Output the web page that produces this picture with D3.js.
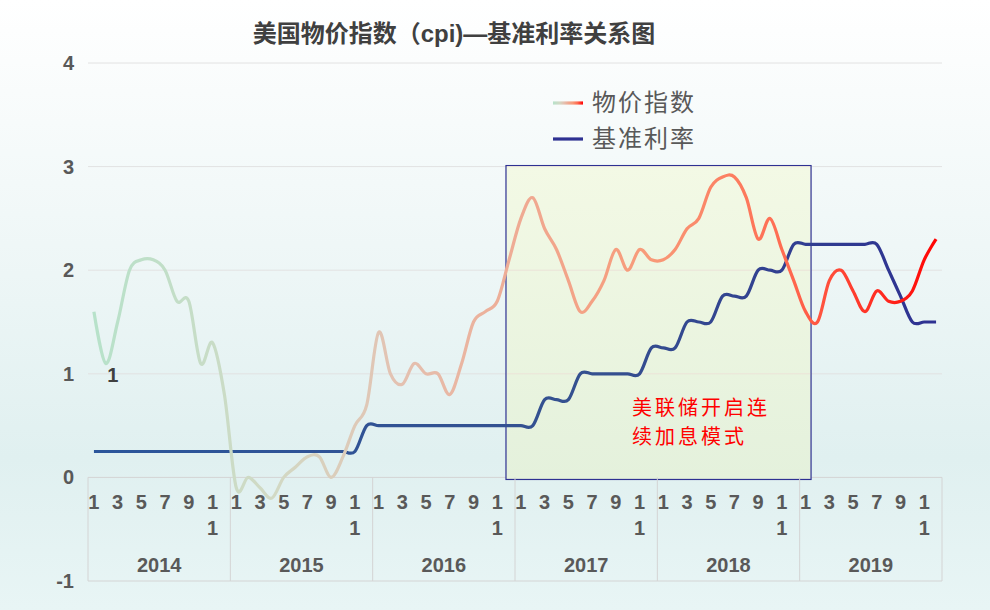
<!DOCTYPE html>
<html>
<head>
<meta charset="utf-8">
<script src="https://cdn.jsdelivr.net/npm/d3@7"></script>
<style>
  html, body { margin: 0; padding: 0; }
  svg { display: block; }
  .tick-label { font-family: "Liberation Sans", Arial, sans-serif; font-weight: bold; fill: #595959; }
</style>
</head>
<body>
<svg id="chart" width="990" height="610"></svg>
<script>
// years and months on the category axis
const years = ["2014", "2015", "2016", "2017", "2018", "2019"];
const months = [1, 2, 3, 4, 5, 6, 7, 8, 9, 10, 11, 12];
const monthTicks = [1, 3, 5, 7, 9, 11];
const yTicks = [-1, 0, 1, 2, 3, 4];

// CPI year-on-year, %
const cpi = [
  1.6, 1.1, 1.5, 2.0, 2.1, 2.1, 2.0, 1.7, 1.7, 1.1, 1.3, 0.8,
  -0.1, 0.0, -0.1, -0.2, 0.0, 0.1, 0.2, 0.2, 0.0, 0.2, 0.5, 0.7,
  1.4, 1.0, 0.9, 1.1, 1.0, 1.0, 0.8, 1.1, 1.5, 1.6, 1.7, 2.1,
  2.5, 2.7, 2.4, 2.2, 1.9, 1.6, 1.7, 1.9, 2.2, 2.0, 2.2, 2.1,
  2.1, 2.2, 2.4, 2.5, 2.8, 2.9, 2.9, 2.7, 2.3, 2.5, 2.2, 1.9,
  1.6, 1.5, 1.9, 2.0, 1.8, 1.6, 1.8, 1.7, 1.7, 1.8, 2.1, 2.3
];

// federal funds target, %
const rate = [
  0.25, 0.25, 0.25, 0.25, 0.25, 0.25, 0.25, 0.25, 0.25, 0.25, 0.25, 0.25,
  0.25, 0.25, 0.25, 0.25, 0.25, 0.25, 0.25, 0.25, 0.25, 0.25, 0.25, 0.5,
  0.5, 0.5, 0.5, 0.5, 0.5, 0.5, 0.5, 0.5, 0.5, 0.5, 0.5, 0.5,
  0.5, 0.5, 0.75, 0.75, 0.75, 1.0, 1.0, 1.0, 1.0, 1.0, 1.0, 1.25,
  1.25, 1.25, 1.5, 1.5, 1.5, 1.75, 1.75, 1.75, 2.0, 2.0, 2.0, 2.25,
  2.25, 2.25, 2.25, 2.25, 2.25, 2.25, 2.25, 2.0, 1.75, 1.5, 1.5, 1.5
];

const seriesNames = ["物价指数", "基准利率"];
const title = "美国物价指数（cpi)—基准利率关系图";
const noteLines = ["美联储开启连", "续加息模式"];
// highlighted span, in month positions / y values
const noteSpan = { from: 35.24, to: 60.96, top: 3.01, bottom: -0.02 };

const svg = d3.select("#chart");
const width = 990, height = 610;
const margin = { top: 63, right: 48, bottom: 29, left: 88 };

const keys = years.flatMap((y) => months.map((m) => `${y}-${m}`));

const x = d3.scaleBand()
  .domain(keys)
  .range([margin.left, width - margin.right]);

const xPos = d3.scaleLinear()
  .domain([0, keys.length])
  .range([margin.left, width - margin.right]);

const y = d3.scaleLinear()
  .domain([-1, 4])
  .range([height - margin.bottom, margin.top]);

const defs = svg.append("defs");

// page background
const bg = defs.append("linearGradient").attr("id", "bg")
  .attr("x1", 0).attr("y1", 0).attr("x2", 0).attr("y2", 1);
bg.append("stop").attr("offset", "0%").attr("stop-color", "#ffffff");
bg.append("stop").attr("offset", "45%").attr("stop-color", "#edf6f6");
bg.append("stop").attr("offset", "75%").attr("stop-color", "#e0f0f0");
bg.append("stop").attr("offset", "100%").attr("stop-color", "#e8f5f5");

const boxFill = defs.append("linearGradient").attr("id", "boxFill")
  .attr("x1", 0).attr("y1", 0).attr("x2", 0).attr("y2", 1);
boxFill.append("stop").attr("offset", "0%").attr("stop-color", "#f3f9e5");
boxFill.append("stop").attr("offset", "100%").attr("stop-color", "#e4f1dc");

function cpiGradient(id, x1, x2) {
  const g = defs.append("linearGradient").attr("id", id)
    .attr("gradientUnits", "userSpaceOnUse")
    .attr("x1", x1).attr("x2", x2).attr("y1", 0).attr("y2", 0);
  [
    ["0%", "#b6e2ca"], ["22%", "#d2d9c4"], ["36%", "#e3c2b2"],
    ["52%", "#f0a890"], ["66%", "#f89a78"], ["82%", "#ff6a50"], ["100%", "#ff0000"]
  ].forEach(([o, c]) => g.append("stop").attr("offset", o).attr("stop-color", c));
}
cpiGradient("cpiGrad", margin.left, width - margin.right);
cpiGradient("cpiLegendGrad", 553, 583);

const rateGrad = defs.append("linearGradient").attr("id", "rateGrad")
  .attr("gradientUnits", "userSpaceOnUse")
  .attr("x1", margin.left).attr("x2", width - margin.right).attr("y1", 0).attr("y2", 0);
rateGrad.append("stop").attr("offset", "0%").attr("stop-color", "#2b569b");
rateGrad.append("stop").attr("offset", "60%").attr("stop-color", "#35508f");
rateGrad.append("stop").attr("offset", "100%").attr("stop-color", "#2e3192");

svg.append("rect").attr("width", width).attr("height", height).attr("fill", "url(#bg)");

// horizontal grid
svg.append("g")
  .selectAll("line")
  .data(yTicks)
  .join("line")
  .attr("x1", margin.left)
  .attr("x2", width - margin.right)
  .attr("y1", (d) => y(d))
  .attr("y2", (d) => y(d))
  .attr("stroke", (d) => (d <= 0 ? "#d4d4d4" : "#e2e2e2"))
  .attr("stroke-width", 1);

// annotation box
svg.append("rect")
  .attr("x", xPos(noteSpan.from))
  .attr("y", y(noteSpan.top))
  .attr("width", xPos(noteSpan.to) - xPos(noteSpan.from))
  .attr("height", y(noteSpan.bottom) - y(noteSpan.top))
  .attr("fill", "url(#boxFill)")
  .attr("stroke", "#2e3192")
  .attr("stroke-width", 1.2);

// grid lines inside the box, drawn faintly over the fill
svg.append("g")
  .selectAll("line")
  .data(yTicks.filter((d) => d > 0 && d < noteSpan.top))
  .join("line")
  .attr("x1", xPos(noteSpan.from) + 1)
  .attr("x2", xPos(noteSpan.to) - 1)
  .attr("y1", (d) => y(d))
  .attr("y2", (d) => y(d))
  .attr("stroke", "#ebe3d8")
  .attr("stroke-width", 1);

// year separators under the zero line
svg.append("g")
  .selectAll("line")
  .data(d3.range(years.length + 1))
  .join("line")
  .attr("x1", (i) => xPos(i * 12))
  .attr("x2", (i) => xPos(i * 12))
  .attr("y1", y(0))
  .attr("y2", y(-1))
  .attr("stroke", "#d4d4d4");

// y tick labels
svg.append("g")
  .selectAll("text")
  .data(yTicks)
  .join("text")
  .attr("class", "tick-label")
  .attr("x", 74)
  .attr("y", (d) => y(d))
  .attr("dy", "0.35em")
  .attr("text-anchor", "end")
  .attr("font-size", 20)
  .text((d) => d);

// month labels ("11" wraps onto two lines)
const monthG = svg.append("g");
years.forEach((yr) => {
  monthTicks.forEach((m) => {
    const cx = x(`${yr}-${m}`) + x.bandwidth() / 2;
    const chars = String(m).split("");
    chars.forEach((ch, k) => {
      monthG.append("text")
        .attr("class", "tick-label")
        .attr("x", cx)
        .attr("y", y(0) + 25 + k * 26)
        .attr("dy", "0.35em")
        .attr("text-anchor", "middle")
        .attr("font-size", 20)
        .text(ch);
    });
  });
});

// year labels
svg.append("g")
  .selectAll("text")
  .data(years)
  .join("text")
  .attr("class", "tick-label")
  .attr("x", (d, i) => xPos(i * 12 + 6))
  .attr("y", y(0) + 88)
  .attr("dy", "0.35em")
  .attr("text-anchor", "middle")
  .attr("font-size", 20)
  .text((d) => d);

// lines
const line = d3.line()
  .curve(d3.curveCatmullRom.alpha(0))
  .x((d, i) => x(keys[i]) + x.bandwidth() / 2)
  .y((d) => y(d));

svg.append("path")
  .datum(rate)
  .attr("fill", "none")
  .attr("stroke", "url(#rateGrad)")
  .attr("stroke-width", 3.2)
  .attr("stroke-linejoin", "round")
  .attr("d", line);

svg.append("path")
  .datum(cpi)
  .attr("fill", "none")
  .attr("stroke", "url(#cpiGrad)")
  .attr("stroke-width", 3.2)
  .attr("stroke-linejoin", "round")
  .attr("d", line);

// data label on the february 2014 point
svg.append("text")
  .attr("class", "tick-label")
  .attr("x", x(keys[1]) + x.bandwidth() / 2 + 7)
  .attr("y", y(cpi[1]) + 12)
  .attr("dy", "0.35em")
  .attr("text-anchor", "middle")
  .attr("font-size", 20)
  .style("fill", "#404040")
  .text(d3.format(".0f")(cpi[1]));

// annotation text
svg.append("g")
  .selectAll("text")
  .data(noteLines)
  .join("text")
  .attr("x", 632)
  .attr("y", (d, i) => 408 + i * 29)
  .attr("dy", "0.35em")
  .attr("font-family", "'Noto Sans CJK SC', sans-serif")
  .attr("font-size", 20)
  .attr("letter-spacing", 3)
  .attr("fill", "#ff0000")
  .text((d) => d);

// legend
const legend = svg.append("g");
seriesNames.forEach((name, i) => {
  const ly = 103 + i * 36;
  legend.append("line")
    .attr("x1", 553).attr("x2", 583)
    .attr("y1", ly).attr("y2", ly)
    .attr("stroke", i === 0 ? "url(#cpiLegendGrad)" : "#2e3192")
    .attr("stroke-width", 3.2);
  legend.append("text")
    .attr("x", 592)
    .attr("y", ly)
    .attr("dy", "0.35em")
    .attr("font-family", "'Noto Sans CJK SC', sans-serif")
    .attr("font-size", 24)
    .attr("letter-spacing", 2)
    .attr("fill", "#595959")
    .text(name);
});

// title
svg.append("text")
  .attr("x", 454)
  .attr("y", 34)
  .attr("dy", "0.35em")
  .attr("text-anchor", "middle")
  .attr("font-family", "'Liberation Sans', 'Noto Sans CJK SC', sans-serif")
  .attr("font-weight", "bold")
  .attr("font-size", 24)
  .attr("fill", "#404040")
  .text(title);
</script>
</body>
</html>
